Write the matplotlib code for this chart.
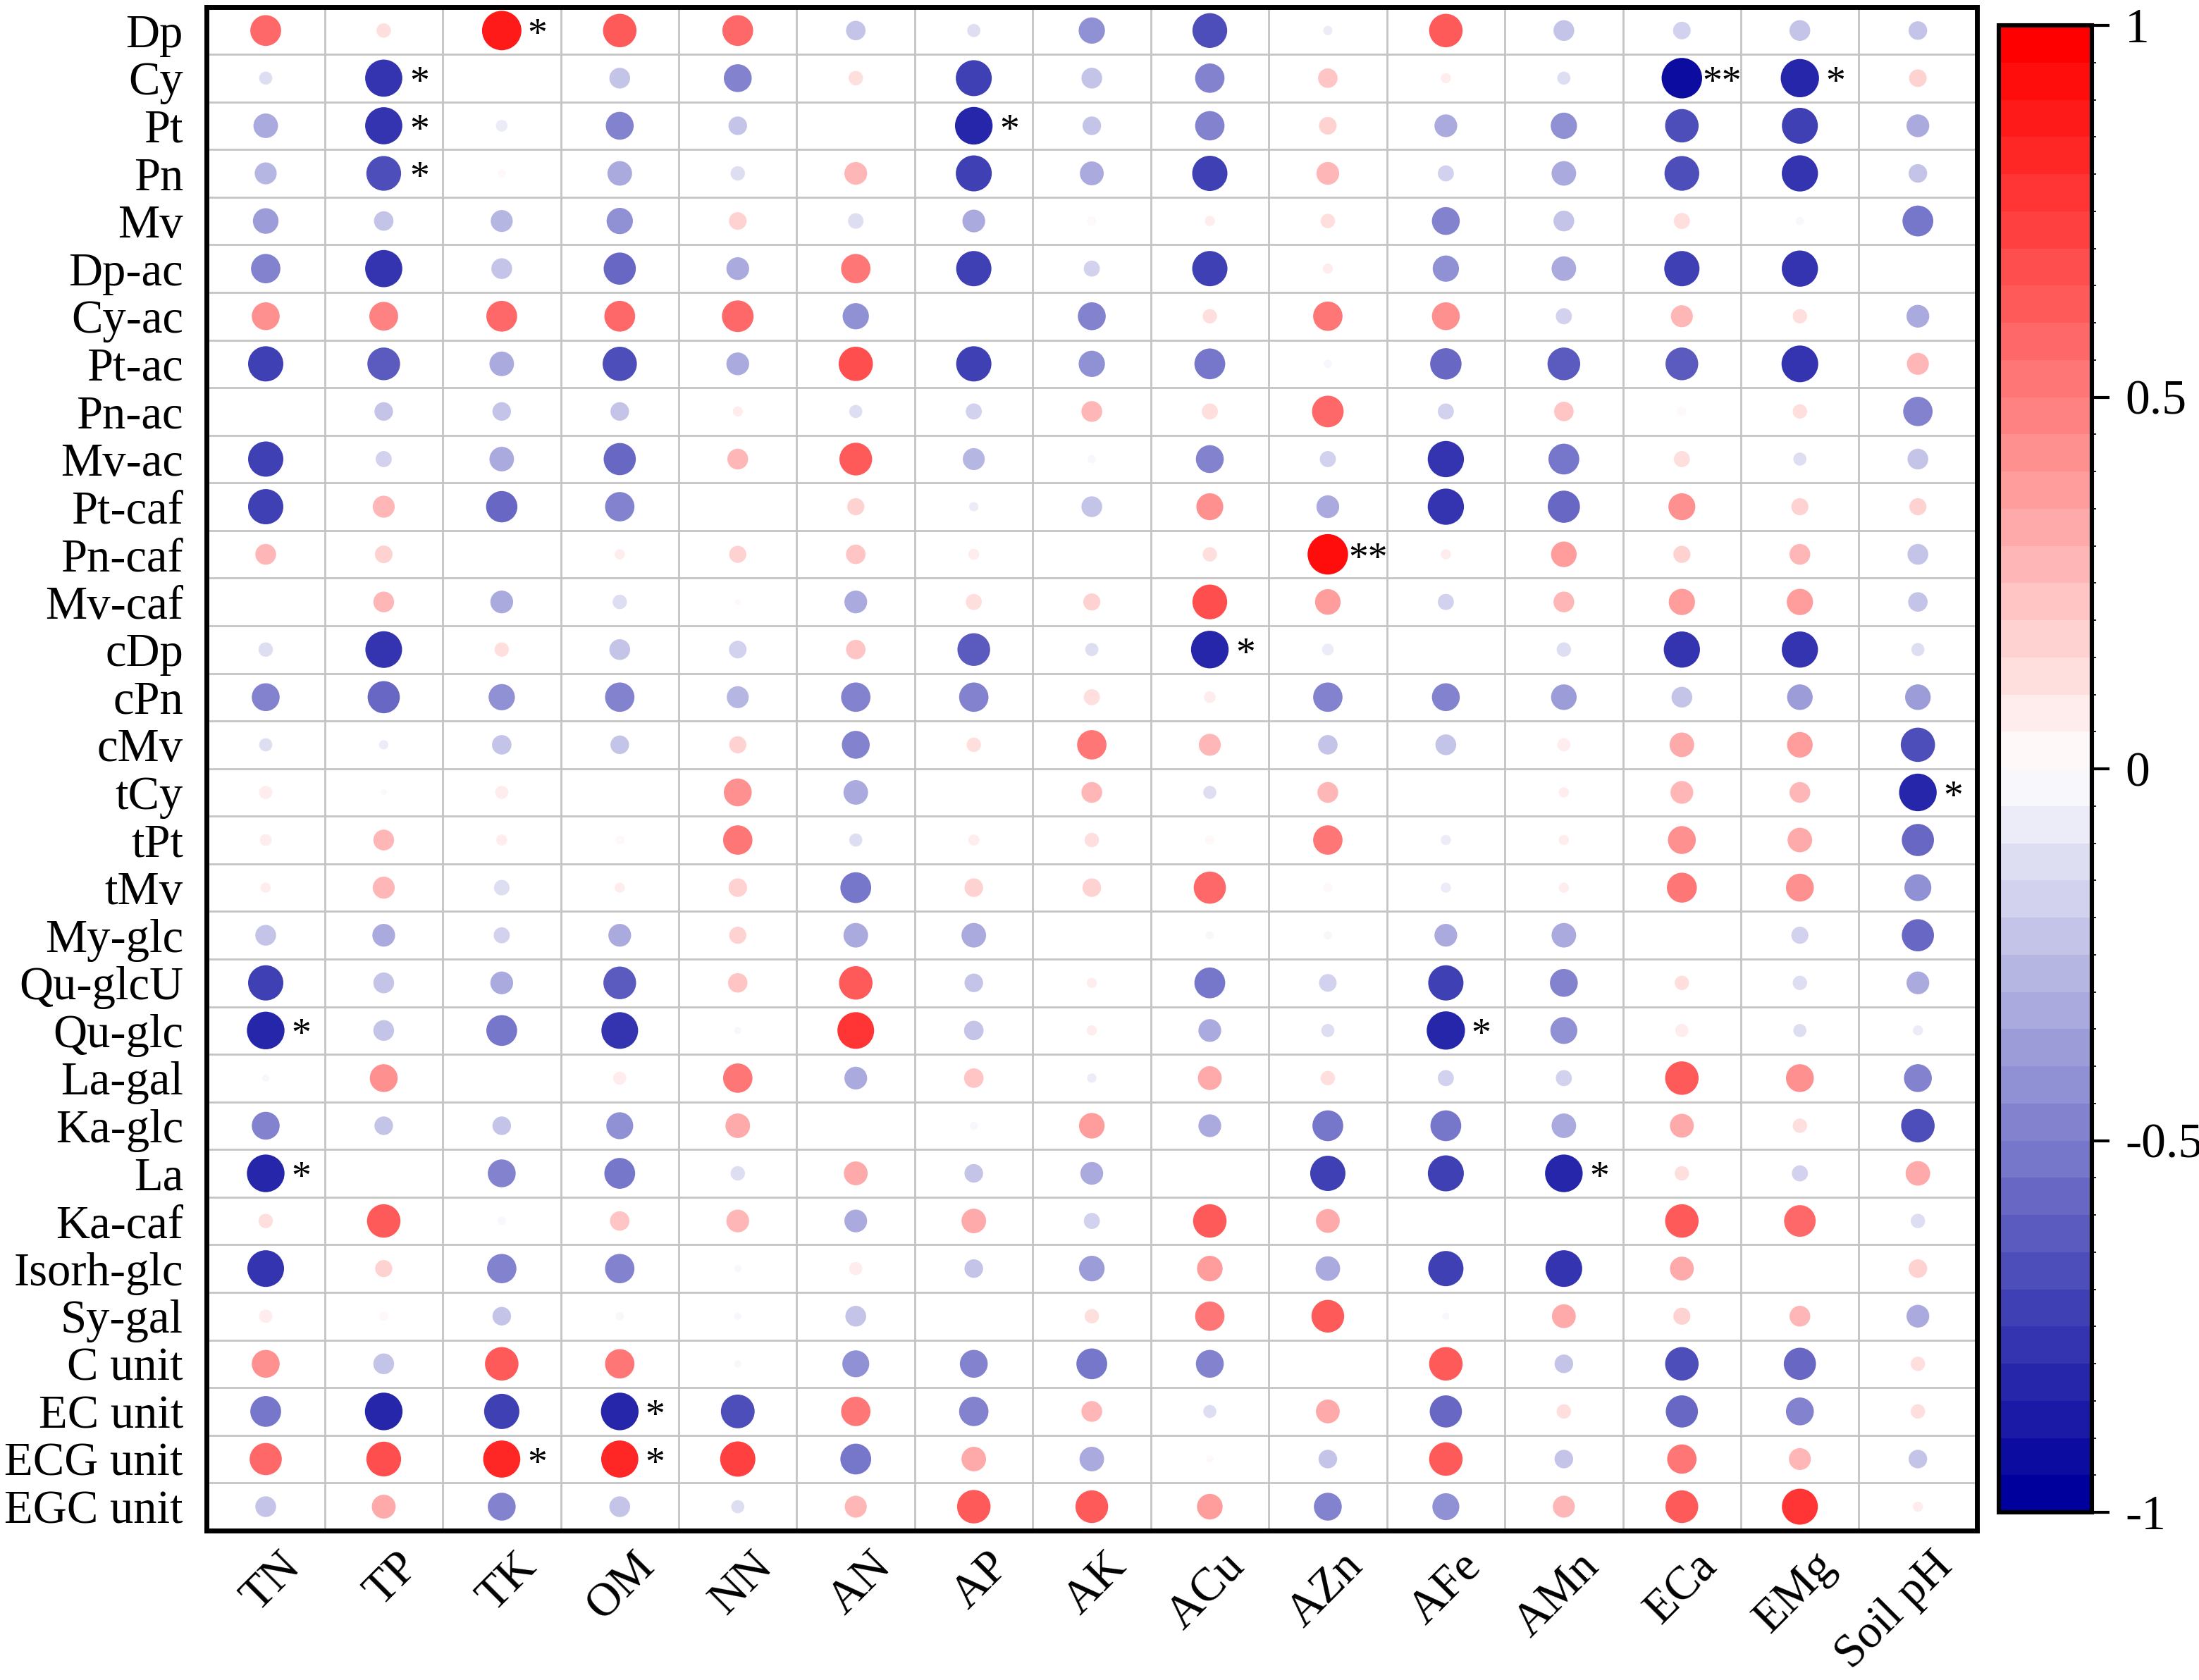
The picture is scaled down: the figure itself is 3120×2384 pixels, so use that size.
import numpy as np
import matplotlib
matplotlib.use("Agg")
import matplotlib.pyplot as plt
from matplotlib.colors import LinearSegmentedColormap, ListedColormap, BoundaryNorm
from matplotlib.cm import ScalarMappable
from matplotlib.transforms import ScaledTranslation

plt.rcParams["font.family"] = ["Liberation Serif", "DejaVu Serif"]

# compounds (rows) and soil properties (columns)
rows = ["Dp", "Cy", "Pt", "Pn", "Mv", "Dp-ac", "Cy-ac", "Pt-ac", "Pn-ac", "Mv-ac",
        "Pt-caf", "Pn-caf", "Mv-caf", "cDp", "cPn", "cMv", "tCy", "tPt", "tMv",
        "My-glc", "Qu-glcU", "Qu-glc", "La-gal", "Ka-glc", "La", "Ka-caf",
        "Isorh-glc", "Sy-gal", "C unit", "EC unit", "ECG unit", "EGC unit"]
cols = ["TN", "TP", "TK", "OM", "NN", "AN", "AP", "AK", "ACu", "AZn", "AFe",
        "AMn", "ECa", "EMg", "Soil pH"]

# correlation coefficients
corr = [
    [0.55, 0.12, 0.90, 0.65, 0.55, -0.22, -0.10, -0.40, -0.70, -0.05, 0.65, -0.25, -0.18, -0.25, -0.20],
    [-0.10, -0.80, 0.00, -0.25, -0.45, 0.12, -0.75, -0.25, -0.50, 0.22, 0.06, -0.10, -0.95, -0.85, 0.18],
    [-0.35, -0.80, -0.08, -0.45, -0.20, 0.00, -0.82, -0.20, -0.50, 0.18, -0.30, -0.40, -0.65, -0.75, -0.30],
    [-0.28, -0.70, 0.04, -0.35, -0.12, 0.30, -0.75, -0.33, -0.72, 0.30, -0.15, -0.35, -0.70, -0.76, -0.20],
    [-0.38, -0.22, -0.28, -0.40, 0.18, -0.14, -0.30, 0.05, 0.06, 0.12, -0.45, -0.25, 0.15, -0.04, -0.55],
    [-0.50, -0.80, -0.25, -0.60, -0.30, 0.50, -0.72, -0.15, -0.72, 0.06, -0.40, -0.35, -0.72, -0.76, 0.00],
    [0.45, 0.48, 0.55, 0.55, 0.58, -0.40, 0.00, -0.45, 0.12, 0.50, 0.45, -0.15, 0.28, 0.12, -0.30],
    [-0.72, -0.62, -0.35, -0.68, -0.30, 0.68, -0.72, -0.40, -0.55, -0.04, -0.57, -0.62, -0.62, -0.78, 0.28],
    [0.00, -0.20, -0.20, -0.20, 0.06, -0.10, -0.15, 0.25, 0.15, 0.58, -0.15, 0.22, 0.05, 0.12, -0.50],
    [-0.72, -0.15, -0.35, -0.60, 0.25, 0.62, -0.28, -0.04, -0.45, -0.15, -0.76, -0.55, 0.15, -0.10, -0.25],
    [-0.72, 0.28, -0.57, -0.50, 0.00, 0.17, -0.05, -0.25, 0.42, -0.30, -0.76, -0.60, 0.42, 0.17, 0.17],
    [0.25, 0.18, 0.00, 0.06, 0.17, 0.22, 0.07, 0.00, 0.12, 0.95, 0.06, 0.38, 0.17, 0.25, -0.25],
    [0.00, 0.25, -0.30, -0.12, 0.02, -0.30, 0.15, 0.17, 0.70, 0.38, -0.15, 0.25, 0.40, 0.40, -0.22],
    [-0.12, -0.78, 0.12, -0.25, -0.18, 0.22, -0.62, -0.10, -0.82, -0.08, 0.00, -0.12, -0.76, -0.76, -0.10],
    [-0.45, -0.60, -0.40, -0.50, -0.28, -0.50, -0.50, 0.15, 0.08, -0.50, -0.45, -0.38, -0.25, -0.38, -0.38],
    [-0.10, -0.05, -0.22, -0.20, 0.17, -0.45, 0.12, 0.50, 0.28, -0.22, -0.25, 0.10, 0.35, 0.38, -0.68],
    [0.10, 0.02, 0.10, 0.00, 0.45, -0.35, 0.00, 0.25, -0.10, 0.25, 0.00, 0.06, 0.30, 0.25, -0.82],
    [0.08, 0.25, 0.07, 0.05, 0.50, -0.10, 0.07, 0.12, 0.05, 0.50, -0.06, 0.06, 0.45, 0.35, -0.60],
    [0.06, 0.28, -0.14, 0.06, 0.20, -0.55, 0.20, 0.20, 0.60, 0.05, -0.06, 0.06, 0.52, 0.45, -0.42],
    [-0.25, -0.30, -0.15, -0.30, 0.17, -0.35, -0.35, 0.00, -0.04, -0.04, -0.30, -0.35, 0.00, -0.17, -0.60],
    [-0.72, -0.25, -0.30, -0.62, 0.22, 0.65, -0.20, 0.06, -0.55, -0.18, -0.72, -0.45, 0.12, -0.12, -0.30],
    [-0.82, -0.25, -0.55, -0.78, -0.03, 0.78, -0.22, 0.06, -0.30, -0.10, -0.85, -0.42, 0.10, -0.10, -0.06],
    [-0.03, 0.45, 0.00, 0.10, 0.50, -0.30, 0.22, -0.05, 0.33, 0.12, -0.15, -0.15, 0.65, 0.45, -0.45],
    [-0.45, -0.20, -0.20, -0.42, 0.35, 0.00, -0.04, 0.38, -0.30, -0.55, -0.55, -0.35, 0.33, 0.12, -0.65],
    [-0.82, 0.00, -0.45, -0.55, -0.12, 0.33, -0.20, -0.30, 0.00, -0.72, -0.75, -0.82, 0.12, -0.15, 0.35],
    [0.12, 0.65, -0.04, 0.22, 0.30, -0.30, 0.35, -0.15, 0.65, 0.33, 0.00, 0.00, 0.65, 0.58, -0.12],
    [-0.78, 0.17, -0.50, -0.50, -0.03, 0.10, -0.20, -0.38, 0.38, -0.35, -0.72, -0.78, 0.33, 0.00, 0.20],
    [0.10, 0.05, -0.20, -0.04, -0.03, -0.25, 0.00, 0.12, 0.50, 0.62, -0.03, 0.33, 0.17, 0.25, -0.30],
    [0.45, -0.25, 0.65, 0.50, -0.03, -0.42, -0.45, -0.55, -0.45, 0.00, 0.65, -0.20, -0.65, -0.60, 0.12],
    [-0.55, -0.82, -0.72, -0.82, -0.66, 0.50, -0.50, 0.25, -0.10, 0.33, -0.60, 0.12, -0.60, -0.45, 0.12],
    [0.60, 0.70, 0.80, 0.80, 0.72, -0.55, 0.35, -0.35, 0.03, -0.20, 0.65, -0.20, 0.50, 0.28, -0.20],
    [-0.25, 0.33, -0.45, -0.25, -0.10, 0.28, 0.65, 0.62, 0.38, -0.45, -0.42, 0.28, 0.62, 0.75, 0.06],
]

# significance marks (row, column, mark)
stars = [
    ("Dp", "TK", "*"), ("Cy", "TP", "*"), ("Cy", "ECa", "**"), ("Cy", "EMg", "*"),
    ("Pt", "TP", "*"), ("Pt", "AP", "*"), ("Pn", "TP", "*"), ("Pn-caf", "AZn", "**"),
    ("cDp", "ACu", "*"), ("tCy", "Soil pH", "*"), ("Qu-glc", "TN", "*"),
    ("Qu-glc", "AFe", "*"), ("La", "TN", "*"), ("La", "AMn", "*"),
    ("EC unit", "OM", "*"), ("ECG unit", "TK", "*"), ("ECG unit", "OM", "*"),
]

r = np.array(corr)
yy, xx = np.indices(r.shape)

base = LinearSegmentedColormap.from_list("bwr_", ["#00009C", "#FFFFFF", "#FF0000"])
levels = np.linspace(-1, 1, 41)
cmap = ListedColormap(base(np.linspace(0, 1, 40)))
norm = BoundaryNorm(levels, cmap.N)

fig = plt.figure(figsize=(15.6, 11.92), dpi=200)
ax = fig.add_axes([0.094, 0.089, 0.805, 0.907])

ax.scatter(xx.ravel(), yy.ravel(), s=450 * np.abs(r).ravel(), c=r.ravel(),
           cmap=cmap, norm=norm, linewidths=0, zorder=3)

for rl, cl, mark in stars:
    i, j = rows.index(rl), cols.index(cl)
    dx = 0.3 if len(mark) == 1 else 0.34
    ax.text(j + dx, i + 0.12, mark, ha="center", va="center", fontsize=20, zorder=4)

ax.set_xlim(-0.5, len(cols) - 0.5)
ax.set_ylim(len(rows) - 0.5, -0.5)
ax.set_xticks(np.arange(len(cols)))
ax.set_yticks(np.arange(len(rows)))
ax.set_xticklabels(cols, rotation=45, ha="right", va="center", rotation_mode="anchor")
ax.set_yticklabels(rows)
ax.set_xticks(np.arange(-0.5, len(cols)), minor=True)
ax.set_yticks(np.arange(-0.5, len(rows)), minor=True)
ax.grid(which="minor", color="#C4C4C4", lw=1.0)
ax.set_axisbelow(True)
ax.tick_params(which="both", length=0, labelsize=24)
ax.tick_params(axis="y", pad=12)
ax.tick_params(axis="x", pad=15)
for lab in ax.get_xticklabels():
    lab.set_transform(lab.get_transform() + ScaledTranslation(0.2, 0, fig.dpi_scale_trans))
for sp in ax.spines.values():
    sp.set_linewidth(2.5)

cax = fig.add_axes([0.909, 0.0998, 0.0423, 0.885])
cb = fig.colorbar(ScalarMappable(norm=norm, cmap=cmap), cax=cax,
                  ticks=[-1, -0.5, 0, 0.5, 1])
cb.ax.set_yticklabels(["-1", "-0.5", "0", "0.5", "1"])
cb.outline.set_linewidth(2.2)
cb.ax.tick_params(length=9, width=1.5, labelsize=25, pad=8)

fig.savefig("out.png", dpi=200)
